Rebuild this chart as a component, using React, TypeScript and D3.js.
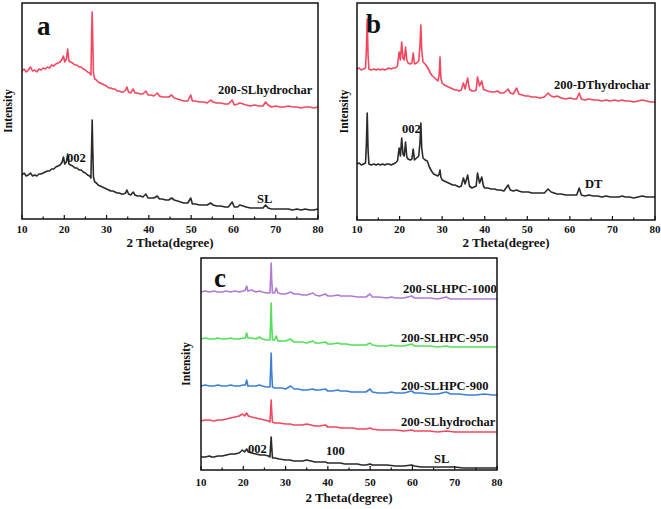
import React from 'react';
import * as d3 from 'd3';

type P = [number, number];

const xTickValues = [10, 20, 30, 40, 50, 60, 70, 80];
const xMinorTickValues = [15, 25, 35, 45, 55, 65, 75];

// ---------- Panel a ----------
const aHydrochar: P[] = [[10,148],[10.5,150],[11,147],[11.5,149],[12,152],[12.5,148],[13,149],[13.5,147],[14,150],[14.5,149],[15,151],[15.5,150],[16,152],[16.5,151],[17,154],[17.5,153],[18,155],[18.5,156],[19,157],[19.5,160],[19.8,163],[20.1,157],[20.5,160],[20.8,170],[21.1,158],[21.5,157],[22,156],[22.5,154],[23,154],[23.5,152],[24,152],[24.5,150],[25,149],[25.5,147],[26,146],[26.3,144],[26.5,190],[26.6,207],[26.7,185],[26.9,146],[27.2,140],[27.6,139],[28,137],[28.5,136],[29,135],[29.5,134],[30,133],[30.5,131],[31,131],[31.5,130],[32,130],[32.5,128],[33,128],[33.5,127],[34,127],[34.5,129],[34.8,132],[35.2,127],[35.7,126],[36.3,130],[36.7,126],[37.3,126],[38,125],[38.6,125],[39.3,128],[39.8,124],[40.5,124],[41.2,123],[42,126],[42.5,123],[43.2,122],[44,122],[44.7,122],[45.4,124],[46,121],[46.8,120],[47.5,119],[48.3,118],[49.2,118],[49.9,124],[50.3,118],[51,118],[52,117],[53,117],[53.8,116],[54.6,119],[55.2,117],[56,116],[57,116],[58,115],[58.8,115],[59.7,119],[60.2,114],[61,115],[61.5,116],[62.3,115],[63,114],[64,113],[65,114],[66,113],[67,113],[67.6,117],[68.2,114],[69,112],[70,113],[71,112],[72,112],[73,113],[74,112],[75,112],[76,111],[77,112],[78,112],[79,111],[80,112]];
const aSL: P[] = [[10,44],[10.5,46],[11,43],[11.5,44],[12,46],[12.5,43],[13,44],[13.5,43],[14,45],[14.5,45],[15,46],[15.5,47],[16,48],[16.5,48],[17,50],[17.5,50],[18,52],[18.5,53],[19,54],[19.5,57],[19.8,62],[20.1,55],[20.5,57],[20.8,65],[21.1,55],[21.5,54],[22,53],[22.5,51],[23,51],[23.5,49],[24,49],[24.5,47],[25,46],[25.5,44],[26,43],[26.3,41],[26.5,80],[26.6,99],[26.7,76],[26.9,42],[27.2,37],[27.6,36],[28,34],[28.5,33],[29,32],[29.5,31],[30,30],[30.5,29],[31,28],[31.5,28],[32,27],[32.5,26],[33,26],[33.5,25],[34,25],[34.5,26],[34.8,29],[35.2,25],[35.7,24],[36.3,27],[36.7,24],[37.3,23],[38,23],[38.6,22],[39.3,25],[39.8,21],[40.5,21],[41.2,21],[42,23],[42.5,20],[43.2,20],[44,19],[44.7,19],[45.4,21],[46,19],[46.8,18],[47.5,17],[48.3,16],[49.2,16],[49.9,21],[50.3,15],[51,15],[52,14],[53,14],[53.8,14],[54.6,16],[55.2,14],[56,13],[57,13],[58,12],[58.8,12],[59.7,17],[60.2,12],[61,12],[61.5,14],[62.3,13],[63,12],[64,11],[65,11],[66,11],[67,11],[67.6,14],[68.2,11],[69,10],[70,10],[71,10],[72,10],[73,10],[74,9],[75,10],[76,9],[77,10],[78,9],[79,9],[80,10]];

// ---------- Panel b ----------
const bHydrochar: P[] = [[10,151],[10.5,152],[11,150],[11.5,151],[12,152],[12.2,170],[12.4,201],[12.6,165],[12.8,151],[13.3,150],[14,151],[14.5,150],[15,151],[15.5,150],[16,151],[16.5,150],[17,151],[17.5,152],[18,151],[18.5,152],[19,152],[19.5,154],[19.9,168],[20.2,160],[20.5,178],[20.8,162],[21.1,160],[21.4,173],[21.7,160],[22,157],[22.5,156],[22.9,157],[23.2,167],[23.5,156],[24,157],[24.5,159],[24.8,175],[25,195],[25.2,170],[25.5,158],[26,156],[26.5,153],[27,149],[27.5,145],[28,143],[28.5,141],[29,139],[29.3,145],[29.5,163],[29.7,142],[30,137],[30.5,135],[31,134],[31.5,133],[32,132],[32.5,131],[33,130],[33.5,130],[34,129],[34.5,130],[35,137],[35.4,131],[36,142],[36.4,131],[37,129],[37.5,129],[38,130],[38.3,143],[38.8,134],[39.3,139],[39.7,131],[40,130],[40.7,129],[41.5,128],[42.3,128],[43,129],[43.7,127],[44.5,127],[45.5,131],[46,127],[46.7,126],[47.5,132],[48,126],[48.8,125],[49.5,124],[50.3,124],[51,123],[52,123],[53,122],[54,123],[54.9,127],[55.6,124],[56.3,123],[57,124],[58,122],[59,121],[60,122],[61,121],[61.6,121],[62.2,127],[62.7,121],[63.5,120],[64.5,121],[65.5,120],[66.5,120],[67.5,119],[68.5,120],[69.5,119],[70.5,120],[71.5,119],[72.3,120],[73,119],[74,119],[75,118],[76,119],[77,120],[78,119],[79,118],[80,118]];
const bDT: P[] = [[10,56],[10.5,57],[11,55],[11.5,56],[12,57],[12.2,75],[12.4,107],[12.6,70],[12.8,56],[13.3,55],[14,56],[14.5,55],[15,56],[15.5,55],[16,56],[16.5,55],[17,56],[17.5,56],[18,55],[18.5,56],[19,57],[19.5,59],[19.9,72],[20.2,64],[20.5,82],[20.8,66],[21.1,64],[21.4,78],[21.7,63],[22,61],[22.5,60],[22.9,61],[23.2,71],[23.5,60],[24,62],[24.5,64],[24.8,78],[25,97],[25.2,72],[25.5,62],[26,60],[26.5,59],[27,53],[27.5,49],[28,46],[28.5,45],[29,44],[29.3,46],[29.5,50],[29.7,43],[30,40],[30.5,39],[31,38],[31.5,37],[32,36],[32.5,35],[33,35],[33.5,34],[34,33],[34.5,34],[35,42],[35.4,36],[36,45],[36.4,34],[37,32],[37.5,33],[38,34],[38.3,47],[38.8,37],[39.3,43],[39.7,34],[40,32],[40.7,32],[41.5,31],[42.3,31],[43,30],[43.7,30],[44.5,29],[45.5,35],[46,30],[46.7,29],[47.5,30],[48,29],[48.8,28],[49.5,28],[50.3,28],[51,27],[52,27],[53,27],[54,27],[54.9,31],[55.6,28],[56.3,27],[57,26],[58,26],[59,25],[60,25],[61,25],[61.6,25],[62.2,32],[62.7,25],[63.5,24],[64.5,25],[65.5,24],[66.5,24],[67.5,23],[68.5,24],[69.5,23],[70.5,23],[71.5,23],[72.3,24],[73,23],[74,23],[75,22],[76,23],[77,24],[78,23],[79,23],[80,23]];

// ---------- Panel c ----------
const cHPC1000: P[] = [[10,178],[11,179],[12,178],[13,179],[14,178],[15,178],[16,179],[17,178],[18,179],[19,178],[20,179],[20.5,180],[20.8,184],[21.1,179],[22,180],[22.5,179],[23,178],[23.8,179],[24.5,178],[25.5,177],[26.3,177],[26.5,195],[26.6,207],[26.7,192],[26.9,177],[27.4,177],[27.8,182],[28.2,177],[29,176],[30,176],[31.2,178],[32,176],[33,176],[34,175],[35,175],[36.5,177],[37,175],[38,174],[39.4,176],[40,174],[41,174],[42.4,175],[43,174],[44.5,174],[45.5,174],[47,173],[48,173],[49,173],[50,176],[50.5,173],[52,173],[54,172],[55,173],[56,172],[58,172],[59.8,174],[60.5,172],[62,172],[64,172],[66,171],[68,173],[69,171],[71,171],[73,171],[75,171],[77,171],[79,171],[80,171]];
const cHPC950: P[] = [[10,131],[11,132],[12,131],[13,131],[14,132],[15,131],[16,131],[17,132],[18,131],[19,131],[20,132],[20.5,132],[20.8,137],[21.1,132],[22,132],[23,131],[23.8,133],[24.5,131],[25.5,130],[26.3,130],[26.5,150],[26.6,167],[26.7,148],[26.9,130],[27.4,130],[27.8,134],[28.2,129],[29,129],[30,129],[31.1,131],[32,128],[33,128],[34,128],[35,127],[36.5,129],[37,127],[38,127],[39.4,128],[40,126],[41,126],[42.4,127],[43,126],[44.5,126],[45.5,125],[47,125],[48,125],[49,125],[50,127],[50.5,125],[52,124],[54,124],[55,125],[56,124],[58,124],[59.8,126],[60.5,124],[62,124],[64,124],[66,123],[68,124],[69,123],[71,123],[73,123],[75,123],[77,123],[79,123],[80,123]];
const cHPC900: P[] = [[10,84],[11,85],[12,84],[13,84],[14,85],[15,84],[16,84],[17,85],[18,84],[19,84],[20,85],[20.5,85],[20.8,90],[21.1,84],[22,84],[23,84],[23.8,85],[24.5,84],[25.5,83],[26.3,83],[26.5,105],[26.6,117],[26.7,100],[26.9,83],[27.4,82],[28,82],[29,82],[30,81],[31.2,84],[32,81],[33,81],[34,80],[35,80],[36.5,81],[37,80],[38,80],[39.4,81],[40,79],[41,79],[42.4,80],[43,79],[44.5,79],[45.5,78],[47,78],[48,78],[49,78],[50,81],[50.5,78],[52,77],[54,77],[55,78],[56,77],[58,77],[59.8,79],[60.5,77],[62,77],[64,76],[66,76],[68,78],[69,76],[71,76],[73,75],[75,75],[77,76],[79,75],[80,75]];
const cHydrochar: P[] = [[10,49],[11,50],[12,50],[13,49],[14,50],[15,50],[16,51],[17,52],[18,53],[19,54],[19.8,56],[20.3,54],[20.8,57],[21.2,54],[22,53],[23,52],[24,51],[25,50],[26,49],[26.3,48],[26.5,62],[26.6,70],[26.7,60],[26.9,48],[27.5,47],[28.5,47],[30,46],[31,46],[32,45],[33,45],[34,45],[35,46],[36,45],[37,44],[38,44],[39.4,45],[40,43],[41,43],[42,43],[43,42],[44,42],[45,42],[46,42],[47,41],[48,41],[49,41],[50,42],[50.5,41],[52,40],[54,40],[56,40],[58,39],[59.8,40],[60.5,39],[62,39],[64,39],[66,38],[68,39],[70,38],[72,38],[74,38],[76,38],[78,38],[80,38]];
const cSL: P[] = [[10,13],[11,13],[12,14],[12.5,13],[13,13],[14,14],[15,14],[16,15],[17,16],[18,16],[19,17],[19.8,20],[20.3,18],[20.8,21],[21.2,18],[22,17],[23,16],[24,15],[25,15],[26,14],[26.3,13],[26.5,27],[26.6,33],[26.7,25],[26.9,12],[27.5,12],[28.5,11],[30,10],[31,10],[32,9],[33,9],[34,9],[35,10],[36,9],[37,8],[38,8],[39.4,8],[40,7],[41,7],[42,7],[43,7],[44,6],[45,6],[46,6],[47,6],[48,5],[49,5],[50,6],[50.5,5],[52,5],[54,5],[56,4],[58,4],[59.8,5],[60.5,4],[62,3],[64,3],[66,3],[68,3],[70,3],[72,2],[74,2],[76,2],[78,2],[80,2]];

const RED = '#f4475f';
const BLACK = '#2a2a2a';
const PURPLE = '#b27ad6';
const GREEN = '#52e05a';
const BLUE = '#3d80d6';

interface SeriesDef { data: P[]; color: string }
interface LabelDef { text: string; x: number; y: number }
interface PanelProps {
  x0: number; x1: number; y0: number; y1: number;
  yMax: number;
  letter: string; letterX: number; letterY: number;
  series: SeriesDef[];
  labels: LabelDef[];
  intensityX: number;
  tickLabelY: number;
  titleY: number;
}

const FONT = '"Liberation Serif", "Times New Roman", serif';

function Panel(p: PanelProps) {
  const xs = d3.scaleLinear().domain([10, 80]).range([p.x0, p.x1]);
  const ys = d3.scaleLinear().domain([0, p.yMax]).range([p.y1, p.y0]);
  const line = d3.line<P>().x(d => xs(d[0])).y(d => ys(d[1]));
  const midY = (p.y0 + p.y1) / 2;
  return (
    <g>
      {p.series.map((s, i) => (
        <path key={i} d={line(s.data) || ''} fill="none" stroke={s.color} strokeWidth={1.6} strokeLinejoin="round" />
      ))}
      <rect x={p.x0} y={p.y0} width={p.x1 - p.x0} height={p.y1 - p.y0} fill="none" stroke="#111" strokeWidth={1.5} />
      {xTickValues.map(t => (
        <g key={'t' + t}>
          <line x1={xs(t)} x2={xs(t)} y1={p.y1} y2={p.y1 - 4} stroke="#111" strokeWidth={1.2} />
          <text x={xs(t)} y={p.tickLabelY} textAnchor="middle" fontFamily={FONT} fontWeight="bold" fontSize={11} fill="#111">{t}</text>
        </g>
      ))}
      {xMinorTickValues.map(t => (
        <line key={'m' + t} x1={xs(t)} x2={xs(t)} y1={p.y1} y2={p.y1 - 2.5} stroke="#111" strokeWidth={1.2} />
      ))}
      <text x={(p.x0 + p.x1) / 2} y={p.titleY} textAnchor="middle" fontFamily={FONT} fontWeight="bold" fontSize={13} fill="#111">2 Theta(degree)</text>
      <text transform={`translate(${p.intensityX},${midY}) rotate(-90)`} textAnchor="middle" fontFamily={FONT} fontWeight="bold" fontSize={11.5} fill="#111">Intensity</text>
      <text x={p.letterX} y={p.letterY} fontFamily={FONT} fontWeight="bold" fontSize={27} fill="#111">{p.letter}</text>
      {p.labels.map((l, i) => (
        <text key={'l' + i} x={xs(l.x)} y={ys(l.y)} fontFamily={FONT} fontWeight="bold" fontSize={12.5} fill="#111">{l.text}</text>
      ))}
    </g>
  );
}

export default function App() {
  return (
    <svg width={661} height={509} style={{ position: 'absolute', left: 0, top: 0, background: '#fff' }}>
      <rect x={0} y={0} width={661} height={509} fill="#fff" />
      <Panel x0={22} x1={318} y0={3} y1={219} yMax={216}
        letter="a" letterX={37} letterY={35}
        series={[{ data: aHydrochar, color: RED }, { data: aSL, color: BLACK }]}
        labels={[{ text: '200-SLhydrochar', x: 56.35, y: 125 }, { text: '002', x: 20.64, y: 57 }, { text: 'SL', x: 65.57, y: 16 }]}
        intensityX={12} tickLabelY={233} titleY={247} />
      <Panel x0={357} x1={655} y0={3} y1={220} yMax={217}
        letter="b" letterX={366} letterY={33}
        series={[{ data: bHydrochar, color: RED }, { data: bDT, color: BLACK }]}
        labels={[{ text: '200-DThydrochar', x: 56.28, y: 131 }, { text: '002', x: 20.57, y: 87 }, { text: 'DT', x: 63.56, y: 32 }]}
        intensityX={348} tickLabelY={233} titleY={247} />
      <Panel x0={201} x1={497} y0={258} y1={470} yMax={212}
        letter="c" letterX={214} letterY={287}
        series={[
          { data: cHPC1000, color: PURPLE },
          { data: cHPC950, color: GREEN },
          { data: cHPC900, color: BLUE },
          { data: cHydrochar, color: RED },
          { data: cSL, color: BLACK },
        ]}
        labels={[
          { text: '200-SLHPC-1000', x: 57.77, y: 177 },
          { text: '200-SLHPC-950', x: 57.3, y: 128 },
          { text: '200-SLHPC-900', x: 57.3, y: 80 },
          { text: '200-SLhydrochar', x: 57.3, y: 44 },
          { text: '002', x: 21.1, y: 17 },
          { text: '100', x: 39.56, y: 15 },
          { text: 'SL', x: 65.1, y: 7 },
        ]}
        intensityX={190} tickLabelY={486} titleY={502} />
    </svg>
  );
}
